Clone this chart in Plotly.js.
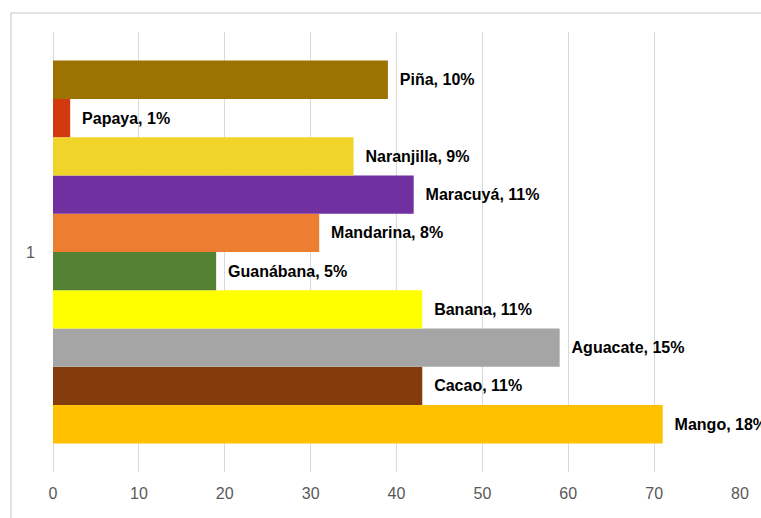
<!DOCTYPE html>
<html>
<head>
<meta charset="utf-8">
<script src="https://cdn.plot.ly/plotly-3.0.1.min.js"></script>
<style>html,body{margin:0;padding:0;background:#fff;}#chart{width:761px;height:518px;}</style>
</head>
<body>
<div id="chart"></div>
<script>
const category = ['1'];
const fruits = ['Mango', 'Cacao', 'Aguacate', 'Banana', 'Guanábana', 'Mandarina', 'Maracuyá', 'Naranjilla', 'Papaya', 'Piña'];
const values = [71, 43, 59, 43, 19, 31, 42, 35, 2, 39];
const percents = [18, 11, 15, 11, 5, 8, 11, 9, 1, 10];
const colors = ['#FFC000', '#843C0C', '#A5A5A5', '#FFFF00', '#548235', '#ED7D31', '#7030A0', '#F0D42A', '#D4380D', '#9C7300'];
const xTicks = [0, 10, 20, 30, 40, 50, 60, 70, 80];

const traces = fruits.map((f, i) => ({
  type: 'bar',
  orientation: 'h',
  name: f,
  y: category,
  x: [values[i]],
  text: ['\u00a0\u00a0' + f + ', ' + percents[i] + '%'],
  textposition: 'outside',
  cliponaxis: false,
  textfont: {family: 'Liberation Sans, Arial, sans-serif', size: 16, color: '#000', weight: 'bold'},
  marker: {color: colors[i], line: {width: 0}},
  hoverinfo: 'none'
}));

const layout = {
  width: 761, height: 518,
  margin: {l: 53, r: 21, t: 32, b: 46},
  paper_bgcolor: '#fff', plot_bgcolor: '#fff',
  showlegend: false,
  barmode: 'group',
  bargap: 0.13,
  bargroupgap: 0,
  font: {family: 'Liberation Sans, Arial, sans-serif', color: '#595959', size: 15},
  xaxis: {
    range: [0, 80], tickvals: xTicks, ticktext: xTicks.map(String),
    showgrid: true, gridcolor: '#d9d9d9', gridwidth: 1,
    zeroline: true, zerolinecolor: '#d9d9d9', zerolinewidth: 1,
    showline: false, ticks: '', fixedrange: true, ticklabelstandoff: 10,
    tickfont: {size: 16, color: '#595959'}
  },
  yaxis: {
    type: 'category', showgrid: false, zeroline: false, showline: false,
    ticks: '', ticklabelstandoff: 17, fixedrange: true,
    tickfont: {size: 16, color: '#595959'}
  },
  shapes: [{
    type: 'rect', xref: 'paper', yref: 'paper',
    x0: -0.0611, x1: 1.2, y0: -0.3, y1: 1.043,
    line: {color: '#d9d9d9', width: 1.5}, fillcolor: 'rgba(0,0,0,0)', layer: 'below'
  }]
};

Plotly.newPlot('chart', traces, layout, {displayModeBar: false, staticPlot: true});
</script>
</body>
</html>
